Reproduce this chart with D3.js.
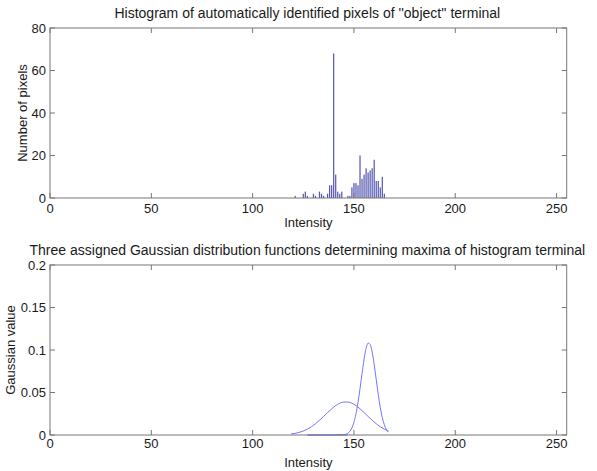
<!DOCTYPE html>
<html>
<head>
<meta charset="utf-8">
<script src="https://cdn.jsdelivr.net/npm/d3@7"></script>
<style>
  body { margin: 0; background: #fff; }
  svg text { font-family: "Liberation Sans", Arial, sans-serif; fill: #1a1a1a; }
</style>
</head>
<body>
<div id="chart"></div>
<script>
// histogram: intensity -> number of pixels
const histIntensity = [121, 125, 126, 127, 130, 131, 133, 134, 135, 137, 138, 139, 140, 141, 142, 143, 144, 147, 148, 149, 150, 151, 152, 153, 154, 155, 156, 157, 158, 159, 160, 161, 162, 163, 164, 165];
const histCount     = [1, 2, 3, 1, 2, 1, 3, 2, 1, 2, 6, 6, 68, 11, 3, 2, 3, 1, 1, 5, 7, 7, 6, 20, 9, 11, 14, 12, 13, 14, 18, 8, 8, 5, 10, 2];

// gaussian curves
const broadX = [119, 121, 123, 125, 127, 129, 131, 133, 135, 137, 139, 141, 143, 145, 147, 149, 151, 153, 155, 157, 159, 161, 163, 165, 167];
const broadY = [0.0012, 0.0019, 0.0031, 0.0047, 0.0069, 0.0097, 0.0132, 0.0173, 0.0218, 0.0264, 0.0308, 0.0346, 0.0374, 0.0388, 0.0388, 0.0374, 0.0346, 0.0308, 0.0264, 0.0218, 0.0173, 0.0132, 0.0097, 0.0069, 0.0047];
const narrowX = [127, 140, 145, 146, 147, 148, 149, 150, 151, 152, 153, 154, 155, 156, 157, 158, 159, 160, 161, 162, 163, 164, 165, 166, 167];
const narrowY = [0, 0, 0.0003, 0.0009, 0.0021, 0.0044, 0.0084, 0.015, 0.0248, 0.0382, 0.0546, 0.0724, 0.0892, 0.102, 0.1082, 0.1066, 0.0975, 0.0828, 0.0653, 0.0478, 0.0324, 0.0205, 0.012, 0.0065, 0.0033];
const thirdX = [127, 137, 147];
const thirdY = [0, 0, 0];

const xTicks = [0, 50, 100, 150, 200, 250];
const histTicks = [0, 20, 40, 60, 80];
const gaussTicks = [0, 0.05, 0.1, 0.15, 0.2];

const W = 597, H = 471;
const left = 50, right = 566.7;
const axisColor = "#777";
const barFill = "#5656b2";
const lineColor = "#7474ff";

const svg = d3.select("#chart").append("svg").attr("width", W).attr("height", H);

const x = d3.scaleLinear().domain([0, 255]).range([left, right]);

function drawAxes(top, bottom, y, yTicks, yFmt, title, yLabel, yLabelX, xLabelY, tickBase) {
  const g = svg.append("g");
  // box
  g.append("rect")
    .attr("x", left).attr("y", top)
    .attr("width", right - left).attr("height", bottom - top)
    .attr("fill", "none").attr("stroke", axisColor).attr("stroke-width", 1);

  // x ticks (inward, top and bottom)
  xTicks.forEach(t => {
    const px = x(t);
    g.append("line").attr("x1", px).attr("x2", px).attr("y1", bottom).attr("y2", bottom - 5).attr("stroke", axisColor);
    g.append("line").attr("x1", px).attr("x2", px).attr("y1", top).attr("y2", top + 5).attr("stroke", axisColor);
    g.append("text").attr("x", px).attr("y", tickBase).attr("text-anchor", "middle")
      .style("font-size", "13px").text(t);
  });

  yTicks.forEach(t => {
    const py = y(t);
    g.append("line").attr("x1", left).attr("x2", left + 5).attr("y1", py).attr("y2", py).attr("stroke", axisColor);
    g.append("line").attr("x1", right).attr("x2", right - 5).attr("y1", py).attr("y2", py).attr("stroke", axisColor);
    g.append("text").attr("x", left - 4).attr("y", py).attr("dy", "0.35em").attr("text-anchor", "end")
      .style("font-size", "13px").text(yFmt(t));
  });

  g.append("text").attr("x", (left + right) / 2 - 1).attr("y", top - 10).attr("text-anchor", "middle")
    .style("font-size", "14px").text(title);
  g.append("text").attr("x", (left + right) / 2).attr("y", xLabelY).attr("text-anchor", "middle")
    .style("font-size", "13px").text("Intensity");
  g.append("text")
    .attr("transform", `translate(${yLabelX},${(top + bottom) / 2}) rotate(-90)`)
    .attr("text-anchor", "middle")
    .style("font-size", "13px").text(yLabel);
}

// ---- top: histogram
const yHist = d3.scaleLinear().domain([0, 80]).range([198, 28]);
const bw = x(0.6) - x(0);
svg.append("g").selectAll("rect")
  .data(histIntensity)
  .join("rect")
    .attr("x", (d, i) => x(d) - bw / 2)
    .attr("y", (d, i) => yHist(histCount[i]))
    .attr("width", bw)
    .attr("height", (d, i) => yHist(0) - yHist(histCount[i]))
    .attr("fill", barFill);

drawAxes(28, 198, yHist, histTicks, d3.format("d"),
  "Histogram of automatically identified pixels of ''object'' terminal",
  "Number of pixels", 27, 227, 213);

// ---- bottom: gaussian curves
const yGauss = d3.scaleLinear().domain([0, 0.2]).range([435, 265]);
const line = d3.line()
  .x(d => x(d[0]))
  .y(d => yGauss(d[1]))
  .curve(d3.curveMonotoneX);

[[broadX, broadY], [narrowX, narrowY], [thirdX, thirdY]].forEach(([xs, ys]) => {
  svg.append("path")
    .datum(xs.map((v, i) => [v, ys[i]]))
    .attr("fill", "none")
    .attr("stroke", lineColor)
    .attr("stroke-width", 1)
    .attr("d", line);
});

drawAxes(265, 435, yGauss, gaussTicks, d => d === 0 ? "0" : String(d),
  "Three assigned Gaussian distribution functions determining maxima of histogram terminal",
  "Gaussian value", 15, 467, 448);
</script>
</body>
</html>
